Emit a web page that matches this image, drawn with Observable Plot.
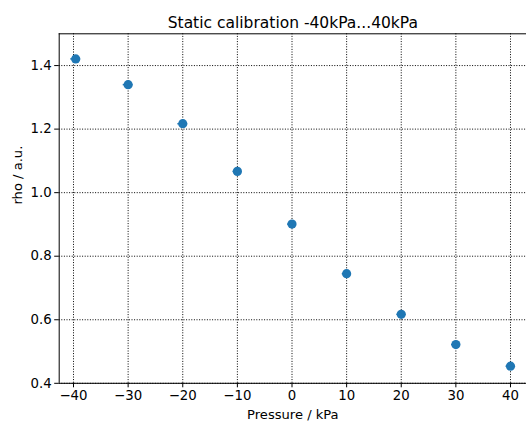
<!DOCTYPE html>
<html>
<head>
<meta charset="utf-8">
<script src="https://cdn.jsdelivr.net/npm/d3@7"></script>
<script src="https://cdn.jsdelivr.net/npm/@observablehq/plot@0.6"></script>
<style>
  html, body { margin: 0; padding: 0; background: #fff; }
  svg { display: block; }
</style>
</head>
<body>
<div id="chart"></div>
<script>
const titleText = "Static calibration -40kPa...40kPa";
const xLabel = "Pressure / kPa";
const yLabel = "rho / a.u.";
const pressure = [-39.6, -30, -20, -10, 0, 10, 20, 30, 40];
const rho = [1.421, 1.340, 1.217, 1.067, 0.901, 0.745, 0.617, 0.522, 0.454];
const xErr = [0.9, 0.9, 0.9, 0.8, 0.8, 0.8, 0.8, 0.8, 0.8];
const xTicks = [-40, -30, -20, -10, 0, 10, 20, 30, 40];
const yTicks = [0.4, 0.6, 0.8, 1.0, 1.2, 1.4];
const xDomain = [-42.62, 42.93];
const yDomain = [0.4, 1.5];

const data = pressure.map((p, i) => ({p, r: rho[i], e: xErr[i]}));
const font = "DejaVu Sans, sans-serif";
const blue = "#1f77b4";

const chart = Plot.plot({
  width: 526,
  height: 421,
  marginLeft: 58.7,
  marginRight: 0,
  marginTop: 33.3,
  marginBottom: 38.2,
  style: {fontFamily: font, fontSize: "13px", color: "#000", background: "#fff"},
  x: {domain: xDomain, ticks: xTicks, label: null},
  y: {domain: yDomain, ticks: yTicks, label: null},
  marks: [
    Plot.gridX(xTicks, {stroke: "#000", strokeOpacity: 1, strokeWidth: 1, strokeDasharray: "1,1.6"}),
    Plot.gridY(yTicks, {stroke: "#000", strokeOpacity: 1, strokeWidth: 1, strokeDasharray: "1,1.6"}),
    Plot.axisX(xTicks, {tickSize: 4.5, tickPadding: 3, fontSize: 13.3, tickFormat: d => d < 0 ? "\u2212" + Math.abs(d) : String(d), label: null, stroke: "#000"}),
    Plot.axisY(yTicks, {tickSize: 4.5, tickPadding: 3, fontSize: 13.3, tickFormat: d => d.toFixed(1), label: null, stroke: "#000"}),
    Plot.ruleY(data, {y: "r", x1: d => d.p - d.e, x2: d => d.p + d.e, stroke: blue, strokeWidth: 1.5}),
    Plot.dot(data, {x: "p", y: "r", r: 4.6, fill: blue, stroke: "none"}),
    Plot.ruleX([xDomain[0]], {stroke: "#000", strokeWidth: 1}),
    Plot.ruleY([yDomain[0], yDomain[1]], {stroke: "#000", strokeWidth: 1}),
    Plot.text([titleText], {frameAnchor: "top", lineAnchor: "bottom", dy: -6, fontSize: 15.5, fill: "#000"}),
    Plot.text([xLabel], {frameAnchor: "bottom", lineAnchor: "bottom", dy: 36, fontSize: 13.1, fill: "#000"}),
    Plot.text([yLabel], {frameAnchor: "left", rotate: -90, lineAnchor: "top", dx: -47, dy: -4, fontSize: 13.1, fill: "#000"})
  ]
});
document.getElementById("chart").appendChild(chart);
</script>
</body>
</html>
